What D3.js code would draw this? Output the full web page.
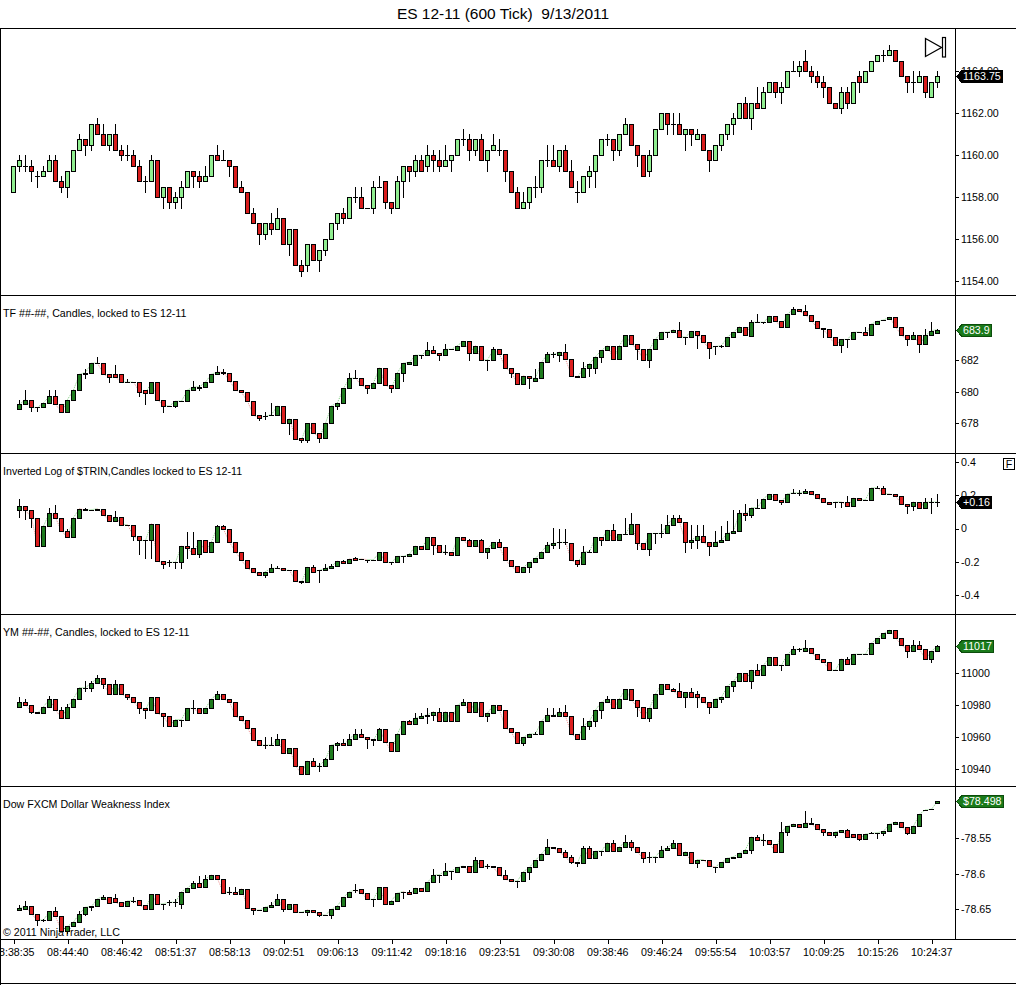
<!DOCTYPE html>
<html>
<head>
<meta charset="utf-8">
<script src="https://cdn.jsdelivr.net/npm/d3@7"></script>
<style>
  body { margin: 0; background: #fff; }
  svg { display: block; font-family: "Liberation Sans", Arial, sans-serif; }
</style>
</head>
<body>
<svg id="chart" width="1016" height="985"></svg>
<script>
// bar index of each time label (every 9th bar)
const timeTickBars = [0, 9, 18, 27, 36, 45, 54, 63, 72, 81, 90, 99, 108, 117, 126, 135, 144, 153]
const timeLabels = ["08:38:35", "08:44:40", "08:46:42", "08:51:37", "08:58:13", "09:02:51", "09:06:13", "09:11:42",
  "09:18:16", "09:23:51", "09:30:08", "09:38:46", "09:46:24", "09:55:54", "10:03:57", "10:09:25", "10:15:26", "10:24:37"]

// [open, high, low, close]
const esBars = [
  [1158.25,1159.5,1158.25,1159.5],[1159.5,1160,1159.25,1159.75],[1159.5,1160,1159.25,1159.5],[1159.5,1159.75,1158.75,1159.25],
  [1159,1159.25,1158.5,1159],[1159,1159.5,1159,1159.25],[1159.25,1160,1159.25,1159.75],[1159.75,1160,1158.75,1158.75],
  [1158.75,1159,1158.25,1158.5],[1158.5,1159.25,1158,1159.25],[1159.25,1160.25,1159.25,1160.25],[1160.25,1161,1160.25,1160.75],
  [1160.75,1160.75,1160,1160.5],[1160.5,1161.5,1160.25,1161.5],[1161.5,1161.75,1161,1161],[1161,1161.5,1160.5,1160.5],
  [1160.5,1161,1160.25,1161],[1161,1161.5,1160.25,1160.25],[1160.25,1160.5,1159.75,1160],[1160,1160.5,1159.75,1160],
  [1160,1160.25,1159.5,1159.5],[1159.5,1159.75,1158.75,1158.75],[1158.75,1159,1158.25,1158.75],[1158.75,1160,1158.75,1159.75],
  [1159.75,1159.75,1158,1158],[1158,1158.5,1157.5,1158.5],[1158.5,1158.5,1157.5,1157.75],[1157.75,1158.25,1157.5,1158],
  [1158,1158.75,1157.5,1158.5],[1158.5,1159.25,1158.5,1159.25],[1159.25,1159.25,1158.5,1159],[1159,1159.25,1158.5,1158.75],
  [1158.75,1159.5,1158.75,1159],[1159,1160,1159,1160],[1160,1160.5,1159.75,1159.75],[1159.75,1160.25,1159.75,1159.75],
  [1159.75,1159.75,1159,1159.5],[1159.5,1159.5,1158.5,1158.5],[1158.5,1158.75,1158.25,1158.25],[1158.25,1158.25,1157.25,1157.25],
  [1157.25,1157.5,1156.75,1156.75],[1156.75,1156.75,1155.75,1156.25],[1156.25,1156.75,1156,1156.75],[1156.75,1157.25,1156.25,1156.5],
  [1156.5,1157.5,1156.5,1157],[1157,1157,1155.75,1155.75],[1155.75,1156.5,1155.25,1156.5],[1156.5,1156.5,1154.75,1154.75],
  [1154.75,1155,1154.25,1154.5],[1154.75,1155.75,1154.5,1155.75],[1155.75,1155.75,1155,1155],[1155,1155.5,1154.5,1155.5],
  [1155.5,1156,1155.25,1156],[1156,1156.75,1156,1156.75],[1156.75,1157.25,1156.5,1157.25],[1157.25,1157.5,1156.75,1157],
  [1157,1158,1157,1158],[1158,1158.5,1157.75,1158],[1158,1158.5,1157.5,1157.5],[1157.5,1157.5,1157.5,1157.5],
  [1157.5,1158.75,1157.25,1158.5],[1158.5,1159,1158.5,1158.5],[1158.75,1158.75,1157.5,1157.75],[1157.75,1157.75,1157.25,1157.5],
  [1157.5,1159,1157.5,1158.75],[1158.75,1159.5,1158,1159.5],[1159.5,1159.5,1158.75,1159.25],[1159.25,1160,1159,1159.75],
  [1159.75,1160,1159.25,1159.25],[1159.5,1160.5,1159.25,1160],[1160,1160.25,1159.25,1159.75],[1159.75,1160.25,1159.25,1159.5],
  [1159.5,1160.5,1159.5,1159.75],[1159.75,1160,1159.25,1160],[1160,1160.75,1160,1160.75],[1160.75,1161.25,1160.5,1160.75],
  [1160.75,1161,1159.75,1160.25],[1160.25,1160.75,1160,1160.75],[1160.75,1161,1159.75,1159.75],[1159.75,1160.25,1159.25,1160.25],
  [1160.25,1161,1160.25,1160.5],[1160.25,1160.75,1160,1160.25],[1160.25,1160.25,1158.75,1159.25],[1159.25,1159.25,1158.25,1158.25],
  [1158.25,1158.5,1157.5,1157.5],[1157.5,1158.25,1157.5,1157.75],[1157.75,1158.5,1157.5,1158.5],[1158.5,1159,1158,1158.5],
  [1158.5,1159.75,1158.25,1159.75],[1159.75,1160.5,1159.5,1159.75],[1159.75,1160.5,1159.5,1159.5],[1159.5,1160.25,1159.25,1160.25],
  [1160.25,1160.5,1159.25,1159.25],[1159.25,1159.75,1158.5,1158.5],[1158.25,1158.75,1157.75,1158.25],[1158.25,1159,1158.25,1159],
  [1159,1159.5,1158.5,1159.25],[1159.25,1160,1158.5,1160],[1160,1160.75,1160,1160.75],[1160.75,1161,1160.5,1160.75],
  [1160.75,1160.75,1159.75,1160.25],[1160.25,1161,1160,1161],[1161,1161.75,1161,1161.5],[1161.5,1161.5,1160.5,1160.5],
  [1160.5,1160.5,1159.5,1160],[1160,1160,1159,1159],[1159.25,1160.25,1159,1160],[1160,1161.25,1160,1161.25],
  [1161.25,1162,1161.25,1162],[1162,1162,1161,1161.5],[1161.5,1162,1161,1161.5],[1161.5,1162,1161,1161],
  [1161,1161.25,1160.25,1161.25],[1161.25,1161.25,1160.5,1161],[1160.75,1161.25,1160.75,1161],[1161,1161,1160.25,1160.25],
  [1160.25,1160.25,1159.25,1159.75],[1159.75,1160.5,1159.75,1160.5],[1160.5,1161,1160.25,1161],[1161,1161.5,1160.75,1161.5],
  [1161.5,1162,1161,1161.75],[1161.75,1162.5,1161.75,1162.5],[1162.5,1162.75,1161.75,1161.75],[1161.75,1162.5,1161.25,1162.5],
  [1162.5,1163.25,1162.25,1162.25],[1162.25,1163.25,1162.25,1163],[1163,1163.5,1163,1163.5],[1163.5,1163.5,1162.75,1163],
  [1163,1163.5,1162.5,1163.25],[1163.25,1164,1163.25,1164],[1164,1164.5,1164,1164],[1164,1164.5,1163.75,1164.25],
  [1164.5,1165,1164,1164],[1164,1164.25,1163.5,1163.75],[1163.75,1164,1163.25,1163.5],[1163.5,1163.75,1162.75,1163.25],
  [1163.25,1163.25,1162.5,1162.5],[1162.5,1162.5,1162.25,1162.25],[1162.25,1163.25,1162,1163],[1163,1163.25,1162.25,1162.5],
  [1162.5,1163.5,1162.5,1163.5],[1163.75,1164,1163,1163.5],[1163.5,1164,1163.5,1164],[1164,1164.5,1164,1164.5],
  [1164.5,1164.75,1164.5,1164.75],[1164.75,1165,1164.5,1164.75],[1164.75,1165.25,1164.75,1165],[1165,1165,1164.5,1164.5],
  [1164.5,1164.5,1163.75,1163.75],[1163.75,1163.75,1163,1163.5],[1163.5,1164,1163,1163.5],[1163.5,1164,1163.5,1163.75],
  [1163.75,1163.75,1162.75,1163],[1162.75,1163.5,1162.75,1163.5],[1163.5,1164,1163.25,1163.75]
]

// indicator panels start on bar 1
const tfBars = [null,
  [678.9,679.5,678.9,679.2],[679.2,680.1,679.2,679.5],[679.5,679.5,678.8,679.0],[679.0,679.0,678.8,679.0],
  [679.0,679.3,679.0,679.3],[679.3,680.1,679.3,679.7],[679.7,680.1,679.2,679.2],[679.2,679.2,678.7,678.7],
  [678.7,679.5,678.7,679.5],[679.5,680.1,679.5,680.1],[680.1,681.1,680.1,681.1],[681.1,681.4,680.85,681.2],
  [681.2,681.8,681.2,681.8],[681.8,682.2,681.8,681.8],[681.8,681.8,681.1,681.1],[681.1,681.1,680.6,680.9],
  [681.1,681.7,680.9,680.9],[681.1,681.1,680.6,680.6],[680.6,680.8,680.6,680.6],[680.6,680.6,680.6,680.6],
  [680.6,680.6,679.7,680.0],[680.1,680.1,679.2,679.9],[679.9,680.6,679.9,680.6],[680.6,680.6,679.5,679.5],
  [679.5,679.5,678.7,679.1],[679.1,679.1,679.1,679.1],[679.1,679.4,679.0,679.4],[679.4,679.4,679.4,679.4],
  [679.4,680.1,679.4,680.1],[680.1,680.7,680.1,680.3],[680.2,680.4,680.1,680.3],[680.3,680.6,680.3,680.6],
  [680.6,681.1,680.6,681.1],[681.1,681.6,681.1,681.25],[681.25,681.4,681.1,681.2],[681.2,681.2,680.7,680.7],
  [680.7,680.7,680.1,680.1],[680.1,680.1,679.95,679.95],[679.95,679.95,679.4,679.4],[679.4,679.4,678.5,678.5],
  [678.5,678.5,678.2,678.35],[678.45,678.7,678.3,678.45],[678.5,679.3,678.5,678.55],[678.5,679.1,678.5,679.1],
  [679.1,679.1,678.0,678.0],[678.0,678.3,677.35,678.3],[678.3,678.3,677.0,677.0],[677.1,677.1,676.85,676.95],
  [676.95,678.0,676.85,678.0],[678.0,678.0,677.4,677.4],[677.4,677.4,676.8,677.1],[677.1,678.0,677.1,678.0],
  [678.0,679.1,678.0,679.1],[679.1,679.3,678.9,679.3],[679.3,680.2,679.3,680.2],[680.2,681.2,680.2,680.85],
  [680.85,681.35,680.85,680.85],[680.85,680.85,680.4,680.4],[680.4,680.4,679.9,680.2],[680.2,680.55,680.2,680.55],
  [680.55,681.5,680.55,681.5],[681.5,681.5,680.4,680.4],[680.4,680.4,680.0,680.2],[680.2,681.2,680.2,681.2],
  [681.2,681.8,680.7,681.8],[681.75,681.85,681.75,681.85],[681.7,682.3,681.7,682.3],[682.3,682.3,682.15,682.3],
  [682.3,683.1,682.3,682.6],[682.6,682.9,682.45,682.45],[682.45,682.45,682.0,682.3],[682.3,683.0,682.3,682.67],
  [682.67,682.67,682.67,682.67],[682.6,682.9,682.6,682.9],[682.9,683.2,682.9,683.2],[683.2,683.2,682.0,682.45],
  [682.45,682.9,682.45,682.9],[682.9,682.9,682.0,682.0],[682.0,682.0,681.35,682.0],[682.0,682.8,682.0,682.67],
  [682.67,682.67,682.35,682.35],[682.35,682.35,681.5,681.5],[681.5,681.5,680.95,681.2],[681.2,681.2,680.5,680.5],
  [680.5,681.0,680.5,681.0],[681.0,681.0,680.2,680.85],[680.7,681.45,680.7,680.85],[680.85,681.85,680.85,681.85],
  [681.85,682.5,681.85,682.35],[682.35,682.5,682.2,682.35],[682.3,682.5,681.9,682.5],[682.5,683.0,682.05,682.05],
  [682.05,682.05,681.0,681.0],[681.0,681.0,680.9,680.9],[680.9,681.85,680.9,681.5],[681.5,681.75,681.0,681.75],
  [681.5,682.2,681.2,682.2],[682.2,682.6,681.85,682.6],[682.6,682.9,682.6,682.9],[682.9,682.9,682.05,682.05],
  [682.05,682.9,682.05,682.9],[682.9,683.55,682.9,683.55],[683.55,683.55,683.0,683.0],[683.0,683.0,682.05,682.67],
  [682.67,682.67,682.0,682.0],[682.0,682.67,681.55,682.67],[682.67,683.3,682.67,683.3],[683.3,683.75,683.3,683.75],
  [683.75,683.75,683.45,683.75],[683.75,683.9,683.75,683.9],[683.9,684.4,683.45,683.45],[683.45,683.45,683.0,683.45],
  [683.45,683.8,683.45,683.8],[683.8,683.8,682.75,683.6],[683.6,683.6,683.1,683.1],[683.1,683.1,682.15,682.75],
  [682.85,682.9,682.35,682.85],[682.85,682.95,682.8,682.9],[682.9,683.44,682.9,683.44],[683.44,683.75,683.44,683.75],
  [683.75,684.1,683.75,684.1],[684.1,684.1,683.54,683.54],[683.5,684.52,683.5,684.375],[684.375,684.9,684.375,684.375],
  [684.375,684.4,684.35,684.375],[684.375,684.75,684.375,684.75],[684.75,684.75,684.44,684.44],[684.44,684.44,684.1,684.1],
  [684.1,684.9,684.1,684.9],[684.9,685.31,684.9,685.19],[685.19,685.19,685.06,685.06],[685.06,685.48,684.85,684.85],
  [684.85,684.85,684.44,684.44],[684.44,684.44,684.02,684.02],[684.02,684.02,683.44,683.92],[683.92,683.92,683.44,683.44],
  [683.44,683.44,682.92,682.92],[682.92,683.29,682.5,683.29],[683.29,683.29,682.8,683.29],[683.29,683.75,683.29,683.75],
  [683.75,683.75,683.75,683.75],[683.75,684.1,683.6,683.6],[683.6,684.27,683.6,684.27],[684.27,684.44,684.27,684.44],
  [684.52,684.52,684.52,684.52],[684.58,684.69,684.58,684.69],[684.69,684.69,684.1,684.1],[684.1,684.1,683.54,683.54],
  [683.54,683.54,682.92,683.29],[683.29,683.75,683.29,683.54],[683.54,683.54,682.5,682.98],[682.98,683.92,682.98,683.54],
  [683.54,684.375,683.54,683.85],[683.7,683.95,683.7,683.9]
]

const trinBars = [null,
  [0.11,0.176,0.07,0.136],[0.136,0.136,0.06,0.11],[0.11,0.11,0.01,0.066],[0.066,0.066,-0.106,-0.106],
  [-0.106,0.014,-0.106,0.014],[0.014,0.124,0.014,0.096],[0.096,0.14,0.066,0.066],[0.066,0.066,-0.016,-0.016],
  [-0.016,-0.004,-0.052,-0.052],[-0.052,0.066,-0.052,0.066],[0.066,0.12,0.066,0.12],[0.12,0.126,0.11,0.11],
  [0.114,0.114,0.114,0.114],[0.11,0.12,0.11,0.12],[0.12,0.12,0.084,0.084],[0.084,0.084,0.044,0.044],
  [0.044,0.108,0.044,0.072],[0.072,0.072,0.024,0.024],[0.024,0.024,0.024,0.024],[0.024,0.024,-0.068,-0.048],
  [-0.048,-0.048,-0.156,-0.072],[-0.072,-0.072,-0.18,-0.072],[-0.072,0.03,-0.18,0.03],[0.03,0.03,-0.196,-0.196],
  [-0.196,-0.196,-0.24,-0.212],[-0.204,-0.192,-0.228,-0.204],[-0.204,-0.204,-0.24,-0.204],[-0.204,-0.106,-0.24,-0.106],
  [-0.106,-0.024,-0.18,-0.12],[-0.12,-0.02,-0.156,-0.156],[-0.156,-0.072,-0.17,-0.072],[-0.072,-0.072,-0.144,-0.144],
  [-0.144,-0.08,-0.144,-0.08],[-0.08,0.02,-0.08,0.014],[0.014,0.024,-0.004,-0.004],[-0.004,-0.004,-0.084,-0.084],
  [-0.084,-0.084,-0.14,-0.14],[-0.14,-0.14,-0.192,-0.192],[-0.192,-0.192,-0.24,-0.24],[-0.24,-0.24,-0.264,-0.264],
  [-0.264,-0.264,-0.28,-0.28],[-0.28,-0.26,-0.292,-0.26],[-0.26,-0.216,-0.26,-0.24],[-0.24,-0.228,-0.24,-0.24],
  [-0.24,-0.24,-0.252,-0.252],[-0.252,-0.252,-0.252,-0.252],[-0.252,-0.252,-0.32,-0.32],[-0.32,-0.32,-0.332,-0.326],
  [-0.326,-0.234,-0.326,-0.234],[-0.234,-0.22,-0.26,-0.26],[-0.252,-0.252,-0.324,-0.252],[-0.252,-0.216,-0.252,-0.24],
  [-0.24,-0.216,-0.24,-0.228],[-0.228,-0.196,-0.228,-0.196],[-0.196,-0.188,-0.21,-0.21],[-0.21,-0.184,-0.21,-0.184],
  [-0.18,-0.172,-0.188,-0.188],[-0.184,-0.184,-0.184,-0.184],[-0.188,-0.188,-0.204,-0.188],[-0.188,-0.188,-0.188,-0.188],
  [-0.188,-0.144,-0.188,-0.144],[-0.144,-0.144,-0.204,-0.204],[-0.204,-0.204,-0.216,-0.204],[-0.204,-0.168,-0.204,-0.168],
  [-0.168,-0.168,-0.204,-0.168],[-0.168,-0.154,-0.168,-0.154],[-0.154,-0.106,-0.154,-0.106],[-0.106,-0.106,-0.126,-0.126],
  [-0.126,-0.054,-0.126,-0.054],[-0.054,-0.054,-0.154,-0.1],[-0.1,-0.1,-0.144,-0.144],[-0.14,-0.1,-0.154,-0.14],
  [-0.14,-0.14,-0.16,-0.16],[-0.16,-0.054,-0.16,-0.054],[-0.054,-0.054,-0.072,-0.072],[-0.072,-0.066,-0.104,-0.104],
  [-0.104,-0.072,-0.104,-0.072],[-0.07,-0.064,-0.14,-0.14],[-0.14,-0.12,-0.18,-0.12],[-0.12,-0.084,-0.12,-0.084],
  [-0.084,-0.064,-0.11,-0.11],[-0.11,-0.11,-0.192,-0.192],[-0.192,-0.192,-0.228,-0.228],[-0.228,-0.228,-0.26,-0.26],
  [-0.26,-0.234,-0.264,-0.234],[-0.234,-0.204,-0.264,-0.204],[-0.204,-0.18,-0.204,-0.18],[-0.18,-0.14,-0.18,-0.14],
  [-0.14,-0.084,-0.14,-0.1],[-0.1,0.004,-0.12,-0.09],[-0.084,0,-0.12,-0.084],[-0.084,-0.004,-0.096,-0.084],
  [-0.09,-0.09,-0.192,-0.192],[-0.192,-0.192,-0.228,-0.212],[-0.212,-0.104,-0.212,-0.14],[-0.14,-0.13,-0.14,-0.14],
  [-0.14,-0.054,-0.14,-0.054],[-0.054,-0.054,-0.1,-0.068],[-0.068,-0.008,-0.068,-0.008],[-0.008,0.03,-0.068,-0.068],
  [-0.068,-0.036,-0.068,-0.036],[-0.036,0.066,-0.036,-0.036],[-0.036,0.096,-0.036,0.03],[0.03,0.03,-0.124,-0.09],
  [-0.09,-0.09,-0.124,-0.124],[-0.124,-0.03,-0.16,-0.03],[-0.03,-0.03,-0.09,-0.03],[-0.03,0.03,-0.05,-0.03],
  [-0.03,0.08,-0.03,0.024],[0.024,0.08,0.024,0.066],[0.066,0.08,0.04,0.04],[0.04,0.04,-0.14,-0.084],
  [-0.084,0.02,-0.12,-0.07],[-0.07,0.024,-0.12,-0.046],[-0.046,0.024,-0.084,-0.084],[-0.084,-0.084,-0.16,-0.108],
  [-0.108,-0.016,-0.108,-0.084],[-0.084,0.014,-0.084,-0.07],[-0.07,0.044,-0.07,-0.03],[-0.03,0.11,-0.03,-0.016],
  [-0.016,0.11,-0.016,0.096],[0.096,0.15,0.05,0.084],[0.084,0.126,0.068,0.126],[0.126,0.18,0.126,0.126],
  [0.126,0.18,0.126,0.18],[0.18,0.21,0.18,0.21],[0.21,0.21,0.174,0.174],[0.174,0.174,0.15,0.16],
  [0.16,0.21,0.16,0.21],[0.216,0.236,0.216,0.216],[0.216,0.234,0.2,0.216],[0.216,0.236,0.216,0.224],
  [0.224,0.224,0.21,0.21],[0.21,0.21,0.186,0.186],[0.186,0.186,0.16,0.16],[0.16,0.16,0.148,0.148],
  [0.16,0.16,0.13,0.16],[0.16,0.16,0.128,0.16],[0.16,0.196,0.136,0.136],[0.136,0.184,0.136,0.184],
  [0.184,0.184,0.174,0.174],[0.174,0.174,0.174,0.174],[0.174,0.246,0.174,0.246],[0.246,0.256,0.246,0.246],
  [0.246,0.256,0.21,0.21],[0.21,0.21,0.21,0.21],[0.21,0.21,0.196,0.196],[0.196,0.196,0.15,0.15],
  [0.15,0.15,0.096,0.136],[0.136,0.16,0.11,0.16],[0.16,0.16,0.126,0.126],[0.126,0.184,0.126,0.16],
  [0.16,0.184,0.096,0.16],[0.16,0.21,0.136,0.16]
]

const ymBars = [null,
  [10979,10985,10979,10982],[10982,10984,10980,10980],[10980,10980,10975,10976],[10976,10976,10975,10975],
  [10975,10979,10975,10979],[10979,10986,10979,10984],[10984,10984,10977,10977],[10977,10979,10972,10972],
  [10972,10981,10972,10979],[10979,10984,10979,10984],[10984,10991,10984,10991],[10991,10995,10989,10991],
  [10991,10995,10989,10994],[10994,10999,10994,10997],[10997,10997,10991,10993],[10993,10993,10987,10987],
  [10987,10996,10987,10993],[10993,10993,10987,10987],[10987,10987,10984,10985],[10985,10985,10982,10982],
  [10982,10982,10975,10978],[10978,10978,10972,10977],[10977,10985,10977,10985],[10985,10985,10975,10975],
  [10975,10975,10967,10973],[10973,10973,10967,10967],[10967,10971,10967,10971],[10971,10971,10967,10971],
  [10971,10978,10971,10978],[10978,10983,10975,10978],[10978,10978,10975,10975],[10975,10978,10975,10978],
  [10978,10984,10978,10984],[10984,10989,10984,10987],[10987,10987,10984,10984],[10984,10984,10982,10982],
  [10982,10982,10973,10973],[10973,10973,10971,10971],[10971,10971,10966,10966],[10966,10966,10958,10958],
  [10958,10958,10955,10955],[10955,10960,10953,10955],[10955,10960,10955,10955],[10955,10962,10955,10959],
  [10959,10959,10950,10950],[10950,10953,10950,10953],[10953,10953,10942,10942],[10942,10942,10937,10937],
  [10937,10945,10937,10945],[10945,10947,10942,10942],[10942,10944,10939,10942],[10942,10947,10942,10946],
  [10946,10955,10946,10955],[10955,10957,10952,10956],[10956,10959,10955,10955],[10955,10962,10955,10959],
  [10959,10965,10959,10962],[10962,10965,10960,10960],[10960,10960,10953,10959],[10959,10959,10955,10958],
  [10958,10966,10958,10965],[10965,10965,10957,10957],[10957,10957,10951,10951],[10951,10962,10951,10962],
  [10962,10970,10962,10970],[10970,10971,10968,10968],[10968,10975,10968,10972],[10972,10975,10972,10973],
  [10973,10978,10969,10974],[10974,10976,10971,10976],[10976,10978,10970,10970],[10970,10976,10970,10976],
  [10976,10976,10970,10970],[10970,10980,10970,10980],[10980,10984,10980,10982],[10982,10982,10976,10976],
  [10976,10982,10976,10982],[10982,10982,10973,10973],[10973,10975,10970,10975],[10975,10980,10975,10980],
  [10980,10980,10977,10977],[10977,10977,10966,10966],[10966,10966,10963,10963],[10963,10963,10956,10956],
  [10956,10960,10955,10960],[10960,10962,10960,10962],[10962,10963,10962,10962],[10962,10970,10962,10970],
  [10970,10978,10970,10974],[10974,10978,10973,10973],[10973,10978,10973,10976],[10976,10980,10973,10973],
  [10973,10973,10962,10962],[10962,10962,10959,10959],[10959,10972,10959,10967],[10967,10970,10965,10970],
  [10970,10977,10967,10977],[10977,10982,10972,10982],[10982,10986,10982,10984],[10984,10984,10978,10978],
  [10978,10984,10978,10984],[10984,10990,10984,10990],[10990,10990,10983,10983],[10983,10983,10973,10979],
  [10979,10979,10972,10972],[10972,10978,10970,10978],[10978,10987,10978,10987],[10987,10993,10987,10993],
  [10993,10993,10990,10990],[10990,10991,10989,10989],[10989,10994,10985,10985],[10985,10988,10979,10988],
  [10988,10991,10985,10985],[10987,10989,10979,10985],[10985,10985,10982,10982],[10982,10982,10975,10979],
  [10979,10984,10979,10984],[10984,10985,10982,10985],[10985,10992,10985,10992],[10992,10995,10989,10995],
  [10995,11000,10995,11000],[11000,11000,10995,10995],[10995,11002,10991,11002],[11002,11006,10999,10999],
  [10999,11005,10999,11005],[11005,11010,11005,11010],[11010,11010,11005,11005],[11005,11005,11002,11005],
  [11005,11012,11005,11012],[11012,11017,11012,11015],[11015,11016,11014,11015],[11014,11021,11014,11016],
  [11016,11016,11013,11013],[11012,11012,11009,11009],[11009,11009,11007,11007],[11007,11007,11002,11002],
  [11002,11002,11002,11002],[11002,11009,11002,11009],[11009,11010,11006,11006],[11006,11012,11006,11012],
  [11012,11012,11012,11012],[11012,11012,11012,11012],[11012,11019,11012,11019],[11019,11022,11019,11022],
  [11022,11025,11022,11025],[11025,11027,11025,11027],[11027,11027,11022,11022],[11022,11022,11018,11018],
  [11018,11018,11010,11014],[11014,11021,11014,11018],[11018,11020,11015,11015],[11015,11015,11009,11009],
  [11009,11014,11007,11014],[11014,11018,11014,11017]
]

const dowBars = [null,
  [-78.651,-78.644,-78.651,-78.648],[-78.649,-78.639,-78.649,-78.646],[-78.646,-78.646,-78.657,-78.657],[-78.657,-78.657,-78.672,-78.665],
  [-78.665,-78.664,-78.666,-78.665],[-78.665,-78.653,-78.665,-78.653],[-78.653,-78.647,-78.66,-78.66],[-78.66,-78.66,-78.68,-78.68],
  [-78.68,-78.674,-78.683,-78.674],[-78.674,-78.668,-78.674,-78.668],[-78.668,-78.653,-78.668,-78.656],[-78.656,-78.647,-78.658,-78.647],
  [-78.647,-78.646,-78.651,-78.646],[-78.646,-78.635,-78.646,-78.635],[-78.635,-78.63,-78.635,-78.632],[-78.632,-78.632,-78.641,-78.641],
  [-78.634,-78.629,-78.64,-78.64],[-78.64,-78.64,-78.645,-78.645],[-78.645,-78.638,-78.645,-78.638],[-78.638,-78.632,-78.64,-78.638],
  [-78.637,-78.637,-78.644,-78.644],[-78.644,-78.644,-78.65,-78.65],[-78.65,-78.629,-78.65,-78.629],[-78.629,-78.629,-78.643,-78.643],
  [-78.642,-78.642,-78.649,-78.642],[-78.64,-78.637,-78.644,-78.64],[-78.64,-78.635,-78.646,-78.64],[-78.642,-78.625,-78.648,-78.625],
  [-78.625,-78.62,-78.625,-78.62],[-78.62,-78.61,-78.62,-78.613],[-78.613,-78.603,-78.618,-78.618],[-78.618,-78.602,-78.618,-78.607],
  [-78.607,-78.602,-78.607,-78.602],[-78.602,-78.602,-78.607,-78.607],[-78.607,-78.607,-78.627,-78.627],[-78.625,-78.618,-78.629,-78.625],
  [-78.625,-78.619,-78.629,-78.629],[-78.629,-78.621,-78.629,-78.621],[-78.621,-78.621,-78.648,-78.648],[-78.648,-78.648,-78.656,-78.651],
  [-78.651,-78.651,-78.651,-78.651],[-78.652,-78.647,-78.652,-78.647],[-78.647,-78.64,-78.647,-78.644],[-78.644,-78.629,-78.644,-78.635],
  [-78.635,-78.635,-78.653,-78.649],[-78.649,-78.643,-78.649,-78.643],[-78.643,-78.643,-78.654,-78.654],[-78.654,-78.654,-78.654,-78.654],
  [-78.654,-78.651,-78.658,-78.651],[-78.651,-78.651,-78.654,-78.654],[-78.654,-78.654,-78.66,-78.658],[-78.658,-78.658,-78.658,-78.658],
  [-78.658,-78.65,-78.662,-78.65],[-78.65,-78.645,-78.65,-78.645],[-78.645,-78.633,-78.645,-78.633],[-78.633,-78.625,-78.633,-78.625],
  [-78.623,-78.614,-78.626,-78.623],[-78.622,-78.622,-78.627,-78.627],[-78.627,-78.627,-78.636,-78.636],[-78.636,-78.636,-78.645,-78.636],
  [-78.636,-78.619,-78.636,-78.619],[-78.619,-78.619,-78.642,-78.642],[-78.642,-78.638,-78.642,-78.638],[-78.638,-78.627,-78.638,-78.627],
  [-78.625,-78.625,-78.634,-78.625],[-78.625,-78.623,-78.629,-78.629],[-78.627,-78.62,-78.627,-78.62],[-78.62,-78.62,-78.624,-78.624],
  [-78.624,-78.612,-78.624,-78.612],[-78.612,-78.593,-78.612,-78.602],[-78.601,-78.601,-78.611,-78.601],[-78.601,-78.585,-78.601,-78.596],
  [-78.596,-78.596,-78.607,-78.596],[-78.598,-78.591,-78.598,-78.591],[-78.591,-78.589,-78.591,-78.589],[-78.589,-78.589,-78.598,-78.598],
  [-78.598,-78.576,-78.598,-78.581],[-78.581,-78.581,-78.59,-78.59],[-78.589,-78.586,-78.592,-78.589],[-78.589,-78.589,-78.591,-78.591],
  [-78.591,-78.591,-78.602,-78.602],[-78.602,-78.594,-78.608,-78.608],[-78.608,-78.608,-78.61,-78.61],[-78.61,-78.61,-78.618,-78.61],
  [-78.61,-78.597,-78.61,-78.597],[-78.597,-78.591,-78.608,-78.591],[-78.591,-78.581,-78.591,-78.581],[-78.581,-78.572,-78.581,-78.572],
  [-78.572,-78.551,-78.572,-78.562],[-78.562,-78.562,-78.564,-78.564],[-78.564,-78.564,-78.569,-78.569],[-78.569,-78.566,-78.577,-78.577],
  [-78.577,-78.573,-78.585,-78.584],[-78.584,-78.584,-78.589,-78.585],[-78.585,-78.561,-78.585,-78.564],[-78.564,-78.561,-78.578,-78.578],
  [-78.578,-78.568,-78.578,-78.568],[-78.568,-78.568,-78.573,-78.568],[-78.568,-78.556,-78.568,-78.556],[-78.556,-78.552,-78.568,-78.568],
  [-78.568,-78.562,-78.568,-78.562],[-78.562,-78.545,-78.562,-78.555],[-78.555,-78.552,-78.566,-78.562],[-78.562,-78.562,-78.57,-78.57],
  [-78.57,-78.57,-78.584,-78.578],[-78.577,-78.57,-78.584,-78.577],[-78.576,-78.576,-78.583,-78.576],[-78.576,-78.561,-78.576,-78.566],
  [-78.566,-78.561,-78.566,-78.564],[-78.564,-78.552,-78.564,-78.556],[-78.556,-78.556,-78.573,-78.573],[-78.573,-78.569,-78.573,-78.569],
  [-78.569,-78.569,-78.585,-78.585],[-78.585,-78.58,-78.591,-78.58],[-78.58,-78.58,-78.58,-78.58],[-78.58,-78.58,-78.589,-78.589],
  [-78.59,-78.59,-78.597,-78.59],[-78.591,-78.584,-78.591,-78.584],[-78.584,-78.578,-78.584,-78.578],[-78.578,-78.576,-78.578,-78.576],
  [-78.576,-78.571,-78.576,-78.571],[-78.571,-78.566,-78.571,-78.566],[-78.566,-78.548,-78.571,-78.548],[-78.548,-78.545,-78.552,-78.552],
  [-78.552,-78.544,-78.559,-78.552],[-78.552,-78.552,-78.558,-78.558],[-78.558,-78.558,-78.569,-78.569],[-78.569,-78.527,-78.569,-78.541],
  [-78.541,-78.533,-78.545,-78.533],[-78.533,-78.53,-78.533,-78.53],[-78.53,-78.53,-78.534,-78.534],[-78.534,-78.512,-78.534,-78.528],
  [-78.528,-78.522,-78.53,-78.53],[-78.53,-78.53,-78.537,-78.537],[-78.537,-78.537,-78.545,-78.541],[-78.541,-78.541,-78.545,-78.545],
  [-78.545,-78.541,-78.548,-78.541],[-78.541,-78.539,-78.541,-78.539],[-78.539,-78.537,-78.548,-78.548],[-78.544,-78.544,-78.548,-78.548],
  [-78.544,-78.544,-78.553,-78.551],[-78.551,-78.544,-78.551,-78.544],[-78.543,-78.541,-78.543,-78.543],[-78.542,-78.542,-78.55,-78.542],
  [-78.543,-78.54,-78.546,-78.54],[-78.54,-78.53,-78.54,-78.53],[-78.53,-78.527,-78.53,-78.527],[-78.527,-78.527,-78.534,-78.534],
  [-78.534,-78.534,-78.544,-78.542],[-78.542,-78.533,-78.542,-78.533],[-78.533,-78.516,-78.533,-78.516],[-78.51,-78.51,-78.51,-78.51],
  [-78.509,-78.509,-78.509,-78.509],[-78.5,-78.498,-78.5,-78.498]
]

const esTicks = [1154, 1156, 1158, 1160, 1162, 1164]
const tfTicks = [678, 680, 682]
const trinTicks = [-0.4, -0.2, 0, 0.2, 0.4]
const ymTicks = [10940, 10960, 10980, 11000]
const dowTicks = [-78.65, -78.6, -78.55]

const panels = [
  { bars: esBars, top: 28, bottom: 295, dom: [1154, 1162], px: [281, 113], ticks: esTicks,
    fmt: d => d.toFixed(2), up: "#90ee90", down: "#d81c1c", title: null, tag: "1163.75", tagFill: "#000", dots: false },
  { bars: tfBars, top: 296, bottom: 453, dom: [678, 682], px: [423.3, 359.9], ticks: tfTicks,
    fmt: d => String(d), up: "#1e7b1e", down: "#dc1e1e", title: "TF ##-##, Candles, locked to ES 12-11",
    tag: "683.9", tagFill: "#1a7a1a", dots: true },
  { bars: trinBars, top: 454, bottom: 614, dom: [-0.4, 0.4], px: [594.7, 462.3], ticks: trinTicks,
    fmt: d => String(d), up: "#1e7b1e", down: "#dc1e1e", title: "Inverted Log of $TRIN,Candles locked to ES 12-11",
    tag: "+0.16", tagFill: "#000", dots: true },
  { bars: ymBars, top: 615, bottom: 786, dom: [10940, 11000], px: [769, 673.3], ticks: ymTicks,
    fmt: d => String(d), up: "#1e7b1e", down: "#dc1e1e", title: "YM ##-##, Candles, locked to ES 12-11",
    tag: "11017", tagFill: "#1a7a1a", dots: true },
  { bars: dowBars, top: 787, bottom: 939, dom: [-78.65, -78.55], px: [909.3, 838.3], ticks: dowTicks,
    fmt: d => String(d), up: "#1e7b1e", down: "#dc1e1e", title: "Dow FXCM Dollar Weakness Index",
    tag: "$78.498", tagFill: "#1a7a1a", dots: true }
]

const W = 1016, H = 985, axisX = 955
const svg = d3.select("#chart")
svg.append("rect").attr("width", W).attr("height", H).attr("fill", "#fff")

const x = d3.scaleLinear().domain([0, 154]).range([13.3, 937.3])
const cx = i => Math.round(x(i))

svg.append("text")
  .attr("x", 503).attr("y", 19)
  .attr("text-anchor", "middle")
  .style("font-size", "15.5px")
  .style("white-space", "pre")
  .text("ES 12-11 (600 Tick)  9/13/2011")

panels.forEach((p, k) => {
  const y = d3.scaleLinear().domain(p.dom).range(p.px)
  const data = p.bars.map((b, i) => b && { i, o: b[0], h: b[1], l: b[2], c: b[3] }).filter(Boolean)

  svg.append("clipPath").attr("id", `clip${k}`)
    .append("rect").attr("x", 1).attr("y", p.top + 1).attr("width", axisX - 1).attr("height", p.bottom - p.top - 1)

  if (p.title) {
    svg.append("text").attr("x", 3).attr("y", p.top + 21 - (k == 4 ? 0 : 0))
      .style("font-size", "8pt").text(p.title)
  }
  if (k == 4) {
    svg.append("text").attr("x", 3).attr("y", 936).style("font-size", "8pt").text("\u00a9 2011 NinjaTrader, LLC")
  }

  const g = svg.append("g").attr("clip-path", `url(#clip${k})`).attr("shape-rendering", "crispEdges")

  if (p.dots) {
    const segs = d3.pairs(data)
    g.selectAll("line.dot").data(segs).join("line")
      .attr("class", "dot")
      .attr("x1", d => cx(d[0].i) + 0.5).attr("y1", d => y(d[0].c))
      .attr("x2", d => cx(d[1].i) + 0.5).attr("y2", d => y(d[1].c))
      .attr("stroke", d => d[1].c >= d[0].c ? "#7ccf7c" : "#ee8e8e")
      .attr("stroke-dasharray", "1,1")
      .attr("shape-rendering", "auto")
  }

  g.selectAll("line.wick").data(data).join("line")
    .attr("class", "wick")
    .attr("x1", d => cx(d.i) + 0.5).attr("x2", d => cx(d.i) + 0.5)
    .attr("y1", d => Math.round(y(d.h))).attr("y2", d => Math.round(y(d.l)) + 1)
    .attr("stroke", "#000")

  const isBody = d => Math.round(y(Math.min(d.o, d.c))) - Math.round(y(Math.max(d.o, d.c))) >= 1

  g.selectAll("rect.body").data(data.filter(isBody)).join("rect")
    .attr("class", "body")
    .attr("x", d => cx(d.i) - 1.5)
    .attr("y", d => Math.round(y(Math.max(d.o, d.c))) + 0.5)
    .attr("width", 4)
    .attr("height", d => Math.round(y(Math.min(d.o, d.c))) - Math.round(y(Math.max(d.o, d.c))))
    .attr("fill", d => d.c >= d.o ? p.up : p.down)
    .attr("stroke", "#000")

  g.selectAll("line.doji").data(data.filter(d => !isBody(d))).join("line")
    .attr("class", "doji")
    .attr("x1", d => cx(d.i) - 2).attr("x2", d => cx(d.i) + 3)
    .attr("y1", d => Math.round(y(d.c)) + 0.5).attr("y2", d => Math.round(y(d.c)) + 0.5)
    .attr("stroke", "#000")

  // price axis
  const ax = svg.append("g")
    .attr("transform", `translate(${axisX},0)`)
    .call(d3.axisRight(y).tickValues(p.ticks).tickFormat(p.fmt).tickSize(4).tickPadding(2))
  ax.select(".domain").remove()
  ax.selectAll("line").attr("stroke", "#000").attr("shape-rendering", "crispEdges")
  ax.selectAll("text").attr("fill", "#000")
    .style("font-family", "'Liberation Sans', Arial, sans-serif").style("font-size", "8pt")

  // last value tag
  const last = data[data.length - 1]
  const ty = Math.round(y(last.c)) + 0.5
  const tag = svg.append("g")
  const tt = tag.append("text")
    .attr("x", axisX + 8).attr("y", ty).attr("dy", "0.36em")
    .attr("fill", "#fff").style("font-size", "8pt").text(p.tag)
  const tw = tt.node().getComputedTextLength()
  tag.insert("path", "text")
    .attr("d", `M${axisX + 1.5},${ty} L${axisX + 7},${ty - 6} L${axisX + 10 + tw},${ty - 6} L${axisX + 10 + tw},${ty + 6} L${axisX + 7},${ty + 6} Z`)
    .attr("fill", p.tagFill)
    .attr("stroke", p.tagFill == "#000" ? "#000" : "#0c4d0c")
    .attr("shape-rendering", "crispEdges")
})

// time axis
const xa = svg.append("g")
  .attr("transform", "translate(0,940)")
  .call(d3.axisBottom(x).tickValues(timeTickBars).tickFormat((d, i) => timeLabels[i]).tickSize(4).tickPadding(4))
xa.select(".domain").remove()
xa.selectAll("line").attr("stroke", "#000").attr("shape-rendering", "crispEdges")
  .attr("transform", d => `translate(${cx(d) + 0.5 - x(d)},0)`)
xa.selectAll("text").attr("fill", "#000")
  .style("font-family", "'Liberation Sans', Arial, sans-serif").style("font-size", "8pt")

// frame and separators
const frame = svg.append("g").attr("stroke", "#000").attr("shape-rendering", "crispEdges")
const sepYs = [28, 295, 453, 614, 786, 939]
frame.selectAll("line.sep").data(sepYs).join("line")
  .attr("x1", 0).attr("x2", W).attr("y1", d => d + 0.5).attr("y2", d => d + 0.5)
frame.append("line").attr("x1", axisX + 0.5).attr("x2", axisX + 0.5).attr("y1", 28).attr("y2", 940)
frame.append("line").attr("x1", 0.5).attr("x2", 0.5).attr("y1", 28).attr("y2", H)
frame.append("line").attr("x1", 0).attr("x2", W).attr("y1", 983.5).attr("y2", 983.5)

// "F" box on the TRIN panel
svg.append("rect").attr("x", 1003.5).attr("y", 458.5).attr("width", 11).attr("height", 11)
  .attr("fill", "#fff").attr("stroke", "#000").attr("shape-rendering", "crispEdges")
svg.append("text").attr("x", 1009).attr("y", 468).attr("text-anchor", "middle")
  .style("font-size", "8pt").text("F")

// play-to-end button
svg.append("path").attr("d", "M925.5,38.5 L941.5,47.5 L925.5,56.5 Z")
  .attr("fill", "none").attr("stroke", "#000").attr("stroke-width", 1.3)
svg.append("rect").attr("x", 942.5).attr("y", 37.5).attr("width", 3).attr("height", 19.5)
  .attr("fill", "none").attr("stroke", "#000").attr("stroke-width", 1.2)
</script>
</body>
</html>
